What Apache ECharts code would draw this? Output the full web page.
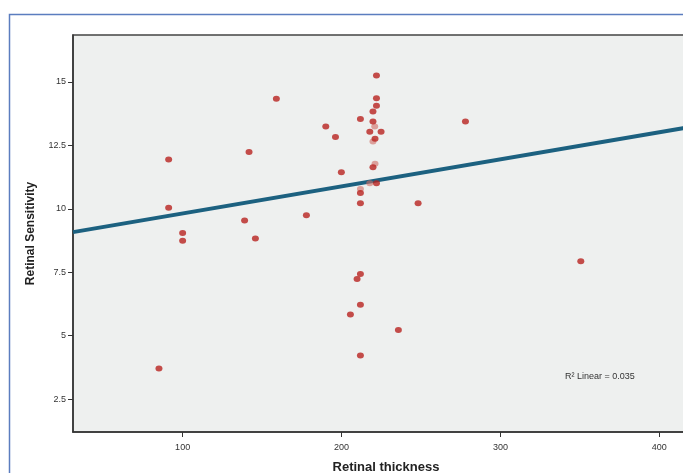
<!DOCTYPE html>
<html>
<head>
<meta charset="utf-8">
<script src="https://cdn.jsdelivr.net/npm/echarts@6/dist/echarts.min.js"></script>
<style>
html,body{margin:0;padding:0;background:#fff;overflow:hidden;width:683px;height:473px;}
#c{width:760px;height:520px;}
</style>
</head>
<body>
<div id="c"></div>
<script>
// Retinal thickness (x) vs Retinal sensitivity (y)
const thickness = [222.0,222.0,222.0,219.8,211.9,190.1,219.8,217.8,224.9,196.2,221.1,219.8,199.9,222.0,211.9,211.9,248.2,177.9,211.9,209.8,211.9,205.6,235.8,211.9,159.0,141.8,91.2,91.2,139.0,100.0,100.0,145.8,85.1,278.0,350.6];
const sensitivity = [15.25,14.36,14.06,13.83,13.54,13.24,13.44,13.04,13.04,12.83,12.76,11.64,11.44,11.01,10.62,10.22,10.22,9.74,7.43,7.23,6.22,5.83,5.22,4.22,14.34,12.24,11.94,10.04,9.54,9.04,8.74,8.83,3.70,13.44,7.93];
// overlapping (faint) points
const thicknessFaint = [220.9,219.8,221.1,217.8,211.9];
const sensitivityFaint = [13.24,12.65,11.77,11.01,10.78];
// linear fit line endpoints
const fitX = [31, 425];
const fitY = [9.08, 13.28];
const yTicks = [2.5, 5, 7.5, 10, 12.5, 15];
const xTicks = [100, 200, 300, 400];
const r2Label = 'R² Linear = 0.035';

const chart = echarts.init(document.getElementById('c'));
const font = '"Liberation Sans", Arial, sans-serif';
chart.setOption({
  animation: false,
  backgroundColor: '#fff',
  grid: {left: 73, top: 35, width: 626, height: 397, show: true,
         backgroundColor: '#eef0ef', borderColor: '#444', borderWidth: 1.5},
  xAxis: {
    type: 'value', min: 31, max: 425,
    name: 'Retinal thickness', nameLocation: 'middle', nameGap: 29,
    nameTextStyle: {fontFamily: font, fontWeight: 'bold', fontSize: 13, color: '#222'},
    axisLine: {lineStyle: {color: '#333', width: 1.5}},
    axisTick: {show: true, length: 5, lineStyle: {color: '#333'}, customValues: xTicks},
    axisLabel: {customValues: xTicks, fontFamily: font, fontSize: 9, color: '#333', margin: 11},
    splitLine: {show: false}
  },
  yAxis: {
    type: 'value', min: 1.2, max: 16.85,
    name: 'Retinal Sensitivity', nameLocation: 'middle', nameGap: 36, nameRotate: 90,
    nameTextStyle: {fontFamily: font, fontWeight: 'bold', fontSize: 12, color: '#222'},
    axisLine: {show: true, lineStyle: {color: '#333', width: 1.5}},
    axisTick: {show: true, length: 5, lineStyle: {color: '#333'}, customValues: yTicks},
    axisLabel: {customValues: yTicks, fontFamily: font, fontSize: 9, color: '#333', margin: 7,
                formatter: v => String(v)},
    splitLine: {show: false}
  },
  graphic: [
    {type: 'rect', left: 7, top: 12, shape: {width: 900, height: 700},
     style: {fill: 'none', stroke: '#5b7dbf', lineWidth: 1.5}, z: 100, silent: true},
    {type: 'text', left: 565, top: 372, z: 100,
     style: {text: r2Label, font: '9px ' + font, fill: '#333'}}
  ],
  series: [
    {type: 'line', data: fitX.map((x, i) => [x, fitY[i]]), symbol: 'none',
     lineStyle: {color: '#1c6180', width: 4}, z: 2},
    {type: 'scatter', data: thicknessFaint.map((x, i) => [x, sensitivityFaint[i]]),
     symbolSize: [7, 6], itemStyle: {color: '#d06a62', opacity: 0.6}, z: 3},
    {type: 'scatter', data: thickness.map((x, i) => [x, sensitivity[i]]),
     symbolSize: [7, 6], itemStyle: {color: '#b8231f'}, z: 4}
  ]
});
</script>
</body>
</html>
